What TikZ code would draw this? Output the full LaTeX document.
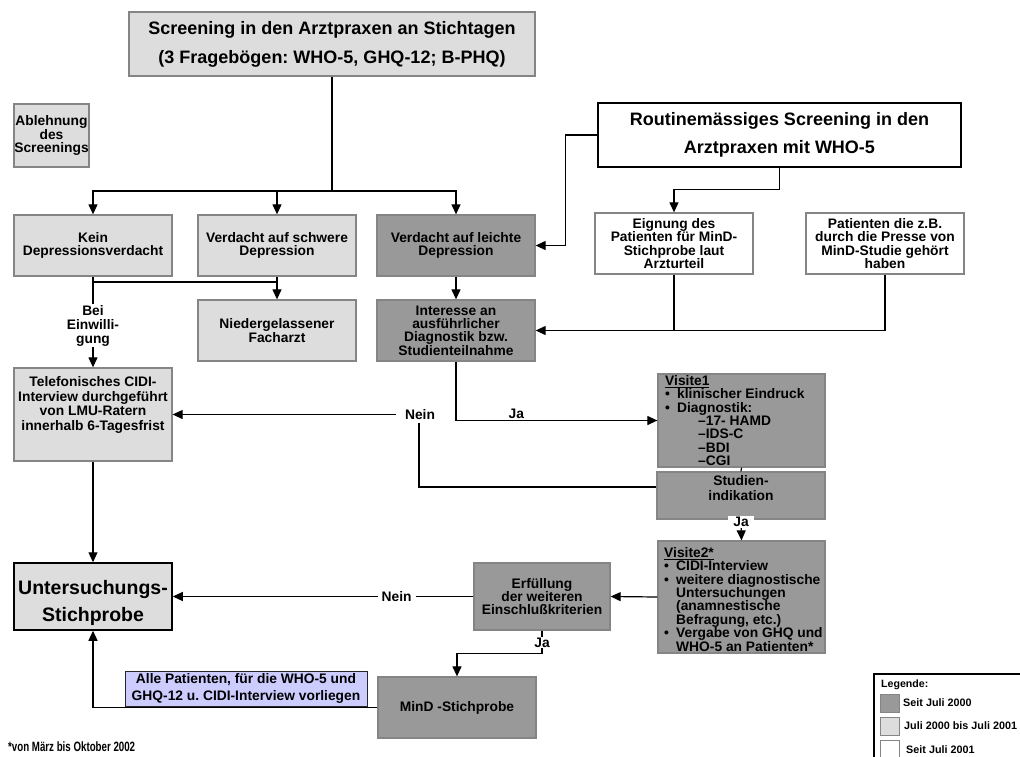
\documentclass[tikz,border=0pt]{standalone}
\usepackage{fontspec}
\setmainfont{Liberation Sans}
\usetikzlibrary{arrows.meta,calc}
\frenchspacing
\definecolor{dk}{HTML}{999999}
\definecolor{lt}{HTML}{DDDDDD}
\definecolor{bd}{HTML}{858585}
\definecolor{bl}{HTML}{CCCCFF}
\newcommand{\fs}{\fontsize{13.8}{13.4}\selectfont\bfseries}
\newcommand{\myul}[1]{\setbox0\hbox{#1}\rlap{\rule[-2.8pt]{\wd0}{1.4pt}}#1}
\newcommand{\bul}{\makebox[12pt][l]{\textbullet}}
\newcommand{\ind}{\hspace*{12pt}}
\newcommand{\sind}{\hspace*{33pt}}
\begin{document}
\begin{tikzpicture}[x=1pt,y=-1pt,
 bx/.style={draw=bd, line width=1.3pt, inner sep=0pt, align=center, font=\fs},
 dkbox/.style={bx, fill=dk},
 ltbox/.style={bx, fill=lt},
 wbox/.style={bx, fill=white},
 arr/.style={line width=1.2pt, -{Triangle[length=10pt,width=9pt]}},
 ln/.style={line width=1.2pt},
 lab/.style={font=\fs, align=center, inner sep=1pt},
 wlab/.style={lab, fill=white},
 vtxt/.style={anchor=north west, inner sep=0pt, align=left, font=\fs},
 legtxt/.style={anchor=west, inner sep=0pt, font=\fontsize{10.8}{12}\selectfont\bfseries}]
\useasboundingbox (0,0) rectangle (1020,756);

% boxes
\node[ltbox, minimum width=406pt, minimum height=64pt, font=\fontsize{18}{29}\selectfont\bfseries] (scr) at (332,44) {Screening in den Arztpraxen an Stichtagen\\(3 Fragebögen: WHO-5, GHQ-12; B-PHQ)};
\node[ltbox, minimum width=75pt, minimum height=63pt] (abl) at (51.5,135.5) {Ablehnung\\des\\Screenings};
\node[wbox, draw=black, line width=1.5pt, minimum width=363pt, minimum height=64pt, font=\fontsize{18}{28}\selectfont\bfseries] (routine) at (779.5,135) {Routinemässiges Screening in den\\Arztpraxen mit WHO-5};

\node[ltbox, minimum width=158pt, minimum height=61pt] (kein) at (93,245.5) {Kein\\Depressionsverdacht};
\node[ltbox, minimum width=158pt, minimum height=61pt] (schwer) at (277,245.5) {Verdacht auf schwere\\Depression};
\node[dkbox, minimum width=158pt, minimum height=61pt] (leicht) at (456,245.5) {Verdacht auf leichte\\Depression};
\node[wbox, minimum width=158pt, minimum height=61pt] (eign) at (674,243.5) {Eignung des\\Patienten für MinD-\\Stichprobe laut\\Arzturteil};
\node[wbox, minimum width=158pt, minimum height=61pt] (pat) at (885,243.5) {Patienten die z.B.\\durch die Presse von\\MinD-Studie gehört\\haben};

\node[ltbox, minimum width=158pt, minimum height=61pt] (nied) at (277,330.5) {Niedergelassener\\Facharzt};
\node[dkbox, minimum width=158pt, minimum height=61pt] (inter) at (456,330.5) {Interesse an\\ausführlicher\\Diagnostik bzw.\\Studienteilnahme};

\node[ltbox, minimum width=158pt, minimum height=93pt] (tel) at (93,414.5) {};
\node[lab, font=\fontsize{13.8}{14.4}\selectfont\bfseries] (telt) at (93,405) {Telefonisches CIDI-\\Interview durchgeführt\\von LMU-Ratern\\innerhalb 6-Tagesfrist};

\node[dkbox, minimum width=167pt, minimum height=93pt] (vis1) at (741.5,420.5) {};
\node[vtxt] (vis1t) at (665,375) {\myul{Visite1}\\
\bul klinischer Eindruck\\
\bul Diagnostik:\\
\sind –17- HAMD\\
\sind –IDS-C\\
\sind –BDI\\
\sind –CGI};

\node[dkbox, minimum width=168pt, minimum height=47pt] (stud) at (741,495.5) {};
\node[lab, font=\fontsize{13.8}{15}\selectfont\bfseries] (studt) at (741,488) {Studien-\\indikation};

\node[dkbox, minimum width=167pt, minimum height=112pt] (vis2) at (741.5,597) {};
\node[vtxt] (vis2t) at (664,547) {\myul{Visite2*}\\
\bul CIDI-Interview\\
\bul weitere diagnostische\\
\ind Untersuchungen\\
\ind (anamnestische\\
\ind Befragung, etc.)\\
\bul Vergabe von GHQ und\\
\ind WHO-5 an Patienten*};

\node[dkbox, minimum width=136pt, minimum height=67pt] (erf) at (542,596.5) {Erfüllung\\der weiteren\\Einschlußkriterien};
\node[ltbox, draw=black, line width=1.5pt, minimum width=158pt, minimum height=67pt] (unt) at (93,596.5) {};
\node[lab, font=\fontsize{19.5}{27}\selectfont\bfseries] (untt) at (93,603) {Untersuchungs-\\Stichprobe};
\node[dkbox, minimum width=158pt, minimum height=61pt] (mind) at (457,707.5) {MinD -Stichprobe};
\node[bx, fill=bl, draw=black!85, line width=1pt, minimum width=242pt, minimum height=35pt, font=\fontsize{13.8}{16.7}\selectfont\bfseries] (blue) at (246,688.5) {Alle Patienten, für die WHO-5 und\\GHQ-12 u. CIDI-Interview vorliegen};

% connectors
\coordinate (j1) at (332,191);
\draw[ln] (scr.south) -- (j1);
\draw[arr] (j1) -| (kein.north);
\draw[arr] (j1) -| (schwer.north);
\draw[arr] (j1) -| (leicht.north);

\draw[arr] (routine.west) -- ++(-32,0) |- (leicht.east);
\draw[arr] (routine.south) -- ++(0,22) -| (eign.north);
\draw[arr] (eign.south) |- (inter.east);
\draw[ln] (pat.south) |- (eign.south |- inter.east);

\coordinate (j2) at (93,282);
\draw[ln] (j2) -- (j2 -| schwer.south);
\draw[arr] (schwer.south) -- (nied.north);
\draw[arr] (kein.south) -- node[wlab, pos=0.54, font=\fontsize{13.8}{14}\selectfont\bfseries] (bei) {Bei\\Einwilli-\\gung} (tel.north);
\draw[arr] (leicht.south) -- (inter.north);

\draw[arr] (inter.south) |- node[lab, pos=0.65, anchor=south] (ja1) {Ja} (vis1.west);
\coordinate (c1) at (419,414.5);
\draw[arr] ([yshift=8.5pt]stud.west) -| (c1) -- (tel.east);
\node[wlab, inner xsep=9pt, inner ysep=3pt] (nein1) at (420,414.5) {Nein};

\draw[ln] (vis1.south) -- (stud.north);
\draw[arr] (stud.south) -- (vis2.north);
\node[wlab, inner xsep=5pt, inner ysep=1pt] (ja2) at ($(stud.south)+(0,2.5)$) {Ja};

\draw[arr] (vis2.west) -- (erf.east);
\draw[arr] (erf.west) -- node[wlab, pos=0.255, inner xsep=4pt] (nein2) {Nein} (unt.east);
\draw[arr] (erf.south) -- ++(0,23) -| (mind.north);
\node[wlab, inner ysep=0.5pt] (ja3) at ($(erf.south)+(0,12)$) {Ja};
\draw[arr] (mind.west) -| (unt.south);
\draw[arr] (tel.south) -- (unt.north);

% footnote
\node[anchor=west, inner sep=0pt, font=\fontsize{13.5}{14}\selectfont\bfseries] (fn) at (8,747) {\scalebox{0.72}[1]{*von März bis Oktober 2002}};

% legend
\draw[line width=1.2pt] (874,674) rectangle (1030,770);
\node[legtxt, font=\fontsize{10.6}{12}\selectfont\bfseries] (lg) at (881,685) {Legende:};
\draw[draw=bd, line width=1pt, fill=dk] (880,694) rectangle (899,712);
\node[legtxt] (lg1) at (903,703) {Seit Juli 2000};
\draw[draw=bd, line width=1pt, fill=lt] (880,717) rectangle (899,735);
\node[legtxt] (lg2) at (904,726) {Juli 2000 bis Juli 2001};
\draw[draw=bd, line width=1pt, fill=white] (880,740) rectangle (899,758);
\node[legtxt] (lg3) at (906,750) {Seit Juli 2001};
\end{tikzpicture}
\end{document}
